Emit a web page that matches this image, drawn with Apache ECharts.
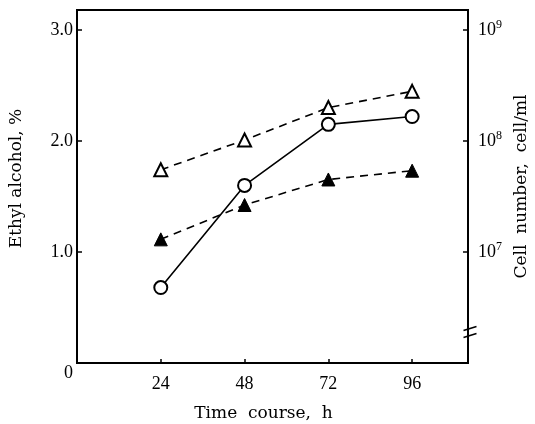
<!DOCTYPE html>
<html lang="en">
<head>
    <meta charset="UTF-8">
    <title>Ethyl alcohol and cell number</title>
    <script src="https://cdn.jsdelivr.net/npm/echarts@6.0.0/dist/echarts.min.js"></script>
    <style>
        html, body { margin: 0; padding: 0; background: #fff; }
        #main { width: 535px; height: 424px; }
    </style>
</head>
<body>
<div id="main"></div>
<script>
    // time course (h)
    var hours = [24, 48, 72, 96];
    // ethyl alcohol, % (open circles, left axis)
    var ethanol = [0.68, 1.60, 2.15, 2.22];
    // cell number, cell/ml (triangles, right log axis)
    var cellsOpen = [5.5e7, 1.02e8, 2.0e8, 2.8e8];
    var cellsFilled = [1.3e7, 2.65e7, 4.5e7, 5.4e7];
    var xTicks = [0, 24, 48, 72, 96];
    var leftTicks = [1, 2, 3];
    var rightTicks = [1e7, 1e8, 1e9];

    function pairs(xs, ys) {
        var out = [];
        for (var i = 0; i < xs.length; i++) {
            out.push([xs[i], ys[i]]);
        }
        return out;
    }

    var serif = 'Liberation Serif';
    var myChart = echarts.init(document.getElementById('main'));
    var option = {
        animation: false,
        backgroundColor: '#fff',
        grid: {
            left: 77, right: 67, top: 10, bottom: 61,
            outerBoundsMode: 'none',
            show: true, borderColor: '#000', borderWidth: 2
        },
        xAxis: {
            type: 'value',
            min: 0, max: 112, interval: 24,
            name: 'Time  course,  h',
            nameLocation: 'middle',
            nameGap: 42,
            nameTextStyle: { fontFamily: 'DejaVu Serif', fontSize: 17, color: '#000', padding: [0, 18, 0, 0] },
            axisLine: { lineStyle: { color: '#000', width: 2 } },
            axisTick: { inside: true, length: 4, lineStyle: { color: '#000', width: 1.5 } },
            axisLabel: {
                margin: 12, color: '#000', fontFamily: serif, fontSize: 18,
                formatter: function (v) { return (xTicks.indexOf(v) > 0) ? String(v) : ''; }
            },
            splitLine: { show: false }
        },
        yAxis: [{
            type: 'value',
            min: 0, max: 3.18, interval: 1,
            name: 'Ethyl alcohol, %',
            nameLocation: 'middle',
            nameGap: 52,
            nameTextStyle: { fontFamily: 'DejaVu Serif', fontSize: 17, color: '#000', padding: [0, 0, 0, 16] },
            axisLine: { lineStyle: { color: '#000', width: 2 } },
            axisTick: { inside: true, length: 5, lineStyle: { color: '#000', width: 1.5 } },
            axisLabel: {
                margin: 4, color: '#000', fontFamily: serif, fontSize: 18,
                formatter: function (v) {
                    if (v === 0) return '{z|0}';
                    return leftTicks.indexOf(v) >= 0 ? v.toFixed(1) : '';
                },
                rich: { z: { fontFamily: serif, fontSize: 18, color: '#000', padding: [20, 0, 0, 0] } }
            },
            splitLine: { show: false }
        }, {
            type: 'log',
            logBase: 10,
            min: 1e6, max: Math.pow(10, 9.18),
            position: 'right',
            name: 'Cell  number,  cell/ml',
            nameLocation: 'middle',
            nameRotate: 90,
            nameGap: 45,
            nameTextStyle: { fontFamily: 'DejaVu Serif', fontSize: 17, color: '#000', padding: [0, 0, 0, 0] },
            axisLine: { show: true, lineStyle: { color: '#000', width: 2 } },
            axisTick: { inside: true, length: 5, lineStyle: { color: '#000', width: 1.5 } },
            axisLabel: {
                margin: 10, color: '#000',
                formatter: function (v) {
                    for (var i = 0; i < rightTicks.length; i++) {
                        if (Math.abs(v - rightTicks[i]) / rightTicks[i] < 1e-6) {
                            return '{b|10}{s|' + Math.round(Math.log(v) / Math.LN10) + '}';
                        }
                    }
                    return '';
                },
                rich: {
                    b: { fontFamily: serif, fontSize: 18, color: '#000' },
                    s: { fontFamily: serif, fontSize: 12, color: '#000', padding: [0, 0, 10, 0] }
                }
            },
            splitLine: { show: false }
        }],
        series: [{
            name: 'cells open',
            type: 'line',
            yAxisIndex: 1,
            data: pairs(hours, cellsOpen),
            symbol: 'triangle',
            symbolSize: 13,
            lineStyle: { color: '#000', width: 1.6, type: [8, 6] },
            itemStyle: { color: '#fff', borderColor: '#000', borderWidth: 2 },
            z: 3
        }, {
            name: 'ethanol',
            type: 'line',
            yAxisIndex: 0,
            data: pairs(hours, ethanol),
            symbol: 'circle',
            symbolSize: 13,
            lineStyle: { color: '#000', width: 1.6 },
            itemStyle: { color: '#fff', borderColor: '#000', borderWidth: 2 },
            z: 4
        }, {
            name: 'cells filled',
            type: 'line',
            yAxisIndex: 1,
            data: pairs(hours, cellsFilled),
            symbol: 'triangle',
            symbolSize: 13,
            lineStyle: { color: '#000', width: 1.6, type: [8, 6] },
            itemStyle: { color: '#000', borderColor: '#000', borderWidth: 1 },
            z: 3
        }],
        graphic: [{
            // break mark on the right axis
            type: 'group',
            left: 461, top: 324,
            z: 100,
            children: [
                { type: 'rect', shape: { x: 3, y: 3, width: 8, height: 7 }, style: { fill: '#fff' } },
                { type: 'line', shape: { x1: 0, y1: 5, x2: 13, y2: 1 }, style: { stroke: '#000', lineWidth: 1.5 } },
                { type: 'line', shape: { x1: 0, y1: 12, x2: 13, y2: 8 }, style: { stroke: '#000', lineWidth: 1.5 } }
            ]
        }]
    };
    myChart.setOption(option);
</script>
</body>
</html>
